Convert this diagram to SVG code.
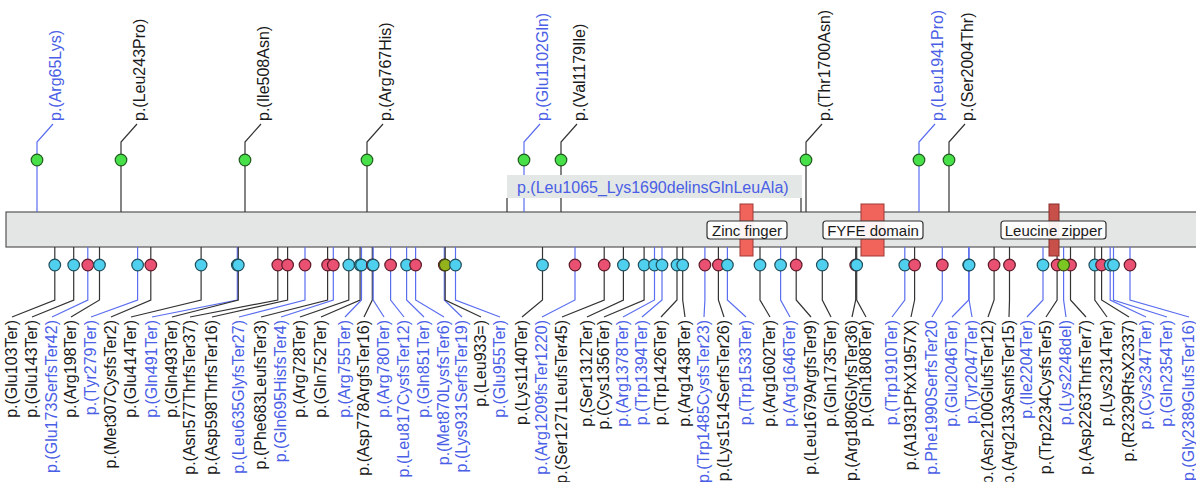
<svg xmlns="http://www.w3.org/2000/svg" width="1196" height="482" viewBox="0 0 1196 482">
<style>
.ck{stroke:#333;stroke-width:1.2;fill:none}
.cb{stroke:#5a6ef0;stroke-width:1.2;fill:none}
text{font-family:"Liberation Sans",Arial,sans-serif;font-size:16px}
.nk{fill:#1a1a1a}
.nb{fill:#4a5ee6}
.be text{text-anchor:end}
.gr{fill:#48e048;stroke:#1f5a1f;stroke-width:1.2}
.cy{fill:#4fd0ee;stroke:#1f4f5c;stroke-width:1.2}
.rd{fill:#ea5072;stroke:#5c1a28;stroke-width:1.2}
.ol{fill:#94b21c;stroke:#3a4a10;stroke-width:1.2}
.ol2{fill:#7cc623;stroke:#3a4a10;stroke-width:1.2}
.lab rect.dom{fill:#f0645c;fill-opacity:1;stroke:#a03a36;stroke-width:1}
.lab rect.dom2{fill:#c8504a;fill-opacity:1;stroke:#8a2e2a;stroke-width:1}
.lab rect.box{fill:#fff;fill-opacity:0.92;stroke:#333;stroke-width:1.2}
.lab text{font-size:15px;fill:#1a1a1a;text-anchor:middle}
</style>
<g id="protein">
<rect x="6" y="212" width="1200" height="35" fill="#e3e6e4" stroke="#555" stroke-width="1.2"/>
</g>
<g id="connectors">
<path class="cb" d="M37 212V142L53 124"/>
<path class="ck" d="M121 212V142L137 124"/>
<path class="ck" d="M245 212V142L261 124"/>
<path class="ck" d="M367 212V142L383 124"/>
<path class="cb" d="M524 212V142L540 124"/>
<path class="ck" d="M561 212V142L577 124"/>
<path class="ck" d="M806 212V142L822 124"/>
<path class="cb" d="M919 212V142L935 124"/>
<path class="ck" d="M949 212V142L965 124"/>
<path class="ck" d="M507 198V212M801 198V212"/>
<path class="ck" d="M54.8 247V300L12 317"/>
<path class="ck" d="M73.7 247V300L32 317"/>
<path class="cb" d="M87.8 247V300L52 317"/>
<path class="ck" d="M99.5 247V300L71 317"/>
<path class="cb" d="M137.6 247V300L91 317"/>
<path class="ck" d="M150.8 247V300L111 317"/>
<path class="ck" d="M201.1 247V300L131 317"/>
<path class="cb" d="M237.3 247V300L152 317"/>
<path class="ck" d="M238.3 247V300L172 317"/>
<path class="ck" d="M277.8 247V300L190 317"/>
<path class="ck" d="M287.6 247V300L212 317"/>
<path class="cb" d="M305 247V300L239 317"/>
<path class="ck" d="M327.6 247V300L261 317"/>
<path class="cb" d="M333.3 247V300L281 317"/>
<path class="ck" d="M348.8 247V300L300 317"/>
<path class="ck" d="M360.1 247V300L321 317"/>
<path class="cb" d="M361.5 247V300L345 317"/>
<path class="ck" d="M372.3 247V300L364 317"/>
<path class="cb" d="M373.2 247V300L384 317"/>
<path class="cb" d="M390.6 247V300L404 317"/>
<path class="cb" d="M406.6 247V300L424 317"/>
<path class="cb" d="M415.6 247V300L444 317"/>
<path class="cb" d="M444.3 247V300L462 317"/>
<path class="ck" d="M445.2 247V300L481 317"/>
<path class="cb" d="M455.5 247V300L500 317"/>
<path class="ck" d="M542.5 247V300L522 317"/>
<path class="cb" d="M575 247V300L542 317"/>
<path class="ck" d="M604.2 247V300L562 317"/>
<path class="ck" d="M623.4 247V300L587 317"/>
<path class="ck" d="M644.1 247V300L604 317"/>
<path class="cb" d="M654.5 247V300L623 317"/>
<path class="cb" d="M662 247V300L642 317"/>
<path class="ck" d="M677 247V300L661 317"/>
<path class="ck" d="M682.7 247V300L685 317"/>
<path class="cb" d="M704.9 247V300L704 317"/>
<path class="ck" d="M718.4 247V300L724 317"/>
<path class="cb" d="M727.4 247V300L746 317"/>
<path class="ck" d="M760 247V300L770 317"/>
<path class="cb" d="M780.6 247V300L790 317"/>
<path class="ck" d="M796.2 247V300L811 317"/>
<path class="ck" d="M822.3 247V300L831 317"/>
<path class="ck" d="M855.7 247V300L852 317"/>
<path class="ck" d="M856.7 247V300L866 317"/>
<path class="cb" d="M904.8 247V300L892 317"/>
<path class="ck" d="M914.6 247V300L911 317"/>
<path class="cb" d="M942.3 247V300L932 317"/>
<path class="cb" d="M968.7 247V300L952 317"/>
<path class="cb" d="M969.1 247V300L972 317"/>
<path class="ck" d="M994.1 247V300L988 317"/>
<path class="ck" d="M1009.5 247V300L1009 317"/>
<path class="cb" d="M1043 247V300L1027 317"/>
<path class="ck" d="M1057.1 247V300L1046 317"/>
<path class="cb" d="M1063.6 247V300L1066 317"/>
<path class="ck" d="M1070.5 247V300L1086 317"/>
<path class="ck" d="M1094.8 247V300L1107 317"/>
<path class="ck" d="M1101.6 247V300L1129 317"/>
<path class="cb" d="M1110.2 247V300L1146 317"/>
<path class="cb" d="M1113.5 247V300L1167 317"/>
<path class="cb" d="M1130 247V300L1189 317"/>
</g>
<g id="delins">
<rect x="507" y="175" width="295" height="23" fill="#e3e7e5"/>
<text class="nb" x="517" y="193">p.(Leu1065_Lys1690delinsGlnLeuAla)</text>
</g>
<g id="zinc-finger" class="lab">
<rect class="dom" x="740" y="204" width="13" height="52"/>
<rect class="box" x="707" y="221" width="80" height="18" rx="3"/>
<text x="747" y="235.5">Zinc finger</text>
</g>
<g id="fyfe-domain" class="lab">
<rect class="dom" x="861" y="204" width="23" height="52"/>
<rect class="box" x="823" y="221" width="100" height="18" rx="3"/>
<text x="873" y="235.5">FYFE domain</text>
</g>
<g id="leucine-zipper" class="lab">
<rect class="dom2" x="1049" y="204" width="10" height="52"/>
<rect class="box" x="1001" y="221" width="105" height="18" rx="3"/>
<text x="1053.5" y="235.5">Leucine zipper</text>
</g>
<g id="top-mutations">
<g id="m-arg65lys"><circle class="gr" cx="37" cy="160" r="5.8"/><text class="nb" transform="translate(61 121) rotate(-90)">p.(Arg65Lys)</text></g>
<g id="m-leu243pro"><circle class="gr" cx="121" cy="160" r="5.8"/><text class="nk" transform="translate(145 121) rotate(-90)">p.(Leu243Pro)</text></g>
<g id="m-ile508asn"><circle class="gr" cx="245" cy="160" r="5.8"/><text class="nk" transform="translate(269 121) rotate(-90)">p.(Ile508Asn)</text></g>
<g id="m-arg767his"><circle class="gr" cx="367" cy="160" r="5.8"/><text class="nk" transform="translate(391 121) rotate(-90)">p.(Arg767His)</text></g>
<g id="m-glu1102gln"><circle class="gr" cx="524" cy="160" r="5.8"/><text class="nb" transform="translate(548 121) rotate(-90)">p.(Glu1102Gln)</text></g>
<g id="m-val1179ile"><circle class="gr" cx="561" cy="160" r="5.8"/><text class="nk" transform="translate(585 121) rotate(-90)">p.(Val1179Ile)</text></g>
<g id="m-thr1700asn"><circle class="gr" cx="806" cy="160" r="5.8"/><text class="nk" transform="translate(830 121) rotate(-90)">p.(Thr1700Asn)</text></g>
<g id="m-leu1941pro"><circle class="gr" cx="919" cy="160" r="5.8"/><text class="nb" transform="translate(943 121) rotate(-90)">p.(Leu1941Pro)</text></g>
<g id="m-ser2004thr"><circle class="gr" cx="949" cy="160" r="5.8"/><text class="nk" transform="translate(973 121) rotate(-90)">p.(Ser2004Thr)</text></g>
</g>
<g id="bottom-mutations" class="be">
<g id="b01"><circle class="cy" cx="54.8" cy="265" r="5.8"/><text class="nk" transform="translate(16.5 320) rotate(-90)">p.(Glu103Ter)</text></g>
<g id="b02"><circle class="cy" cx="73.7" cy="265" r="5.8"/><text class="nk" transform="translate(36.5 320) rotate(-90)">p.(Glu143Ter)</text></g>
<g id="b03"><circle class="rd" cx="87.8" cy="265" r="5.8"/><text class="nb" transform="translate(56.5 320) rotate(-90)">p.(Glu173SerfsTer42)</text></g>
<g id="b04"><circle class="cy" cx="99.5" cy="265" r="5.8"/><text class="nk" transform="translate(75.5 320) rotate(-90)">p.(Arg198Ter)</text></g>
<g id="b05"><circle class="cy" cx="137.6" cy="265" r="5.8"/><text class="nb" transform="translate(95.5 320) rotate(-90)">p.(Tyr279Ter)</text></g>
<g id="b06"><circle class="rd" cx="150.8" cy="265" r="5.8"/><text class="nk" transform="translate(115.5 320) rotate(-90)">p.(Met307CysfsTer2)</text></g>
<g id="b07"><circle class="cy" cx="201.1" cy="265" r="5.8"/><text class="nk" transform="translate(135.5 320) rotate(-90)">p.(Glu414Ter)</text></g>
<g id="b08"><circle class="cy" cx="237.3" cy="265" r="5.8"/><text class="nb" transform="translate(156.5 320) rotate(-90)">p.(Gln491Ter)</text></g>
<g id="b09"><circle class="cy" cx="238.3" cy="265" r="5.8"/><text class="nk" transform="translate(176.5 320) rotate(-90)">p.(Gln493Ter)</text></g>
<g id="b10"><circle class="rd" cx="277.8" cy="265" r="5.8"/><text class="nk" transform="translate(194.5 320) rotate(-90)">p.(Asn577ThrfsTer37)</text></g>
<g id="b11"><circle class="rd" cx="287.6" cy="265" r="5.8"/><text class="nk" transform="translate(216.5 320) rotate(-90)">p.(Asp598ThrfsTer16)</text></g>
<g id="b12"><circle class="rd" cx="305" cy="265" r="5.8"/><text class="nb" transform="translate(243.5 320) rotate(-90)">p.(Leu635GlyfsTer27)</text></g>
<g id="b13"><circle class="rd" cx="327.6" cy="265" r="5.8"/><text class="nk" transform="translate(265.5 320) rotate(-90)">p.(Phe683LeufsTer3)</text></g>
<g id="b14"><circle class="rd" cx="333.3" cy="265" r="5.8"/><text class="nb" transform="translate(285.5 320) rotate(-90)">p.(Gln695HisfsTer4)</text></g>
<g id="b15"><circle class="cy" cx="348.8" cy="265" r="5.8"/><text class="nk" transform="translate(304.5 320) rotate(-90)">p.(Arg728Ter)</text></g>
<g id="b16"><circle class="cy" cx="360.1" cy="265" r="5.8"/><text class="nk" transform="translate(325.5 320) rotate(-90)">p.(Gln752Ter)</text></g>
<g id="b17"><circle class="cy" cx="361.5" cy="265" r="5.8"/><text class="nb" transform="translate(349.5 320) rotate(-90)">p.(Arg755Ter)</text></g>
<g id="b18"><circle class="rd" cx="372.3" cy="265" r="5.8"/><text class="nk" transform="translate(368.5 320) rotate(-90)">p.(Asp778ArgfsTer16)</text></g>
<g id="b19"><circle class="cy" cx="373.2" cy="265" r="5.8"/><text class="nb" transform="translate(388.5 320) rotate(-90)">p.(Arg780Ter)</text></g>
<g id="b20"><circle class="rd" cx="390.6" cy="265" r="5.8"/><text class="nb" transform="translate(408.5 320) rotate(-90)">p.(Leu817CysfsTer12)</text></g>
<g id="b21"><circle class="cy" cx="406.6" cy="265" r="5.8"/><text class="nb" transform="translate(428.5 320) rotate(-90)">p.(Gln851Ter)</text></g>
<g id="b22"><circle class="rd" cx="415.6" cy="265" r="5.8"/><text class="nb" transform="translate(448.5 320) rotate(-90)">p.(Met870LysfsTer6)</text></g>
<g id="b23"><circle class="rd" cx="444.3" cy="265" r="5.8"/><text class="nb" transform="translate(466.5 320) rotate(-90)">p.(Lys931SerfsTer19)</text></g>
<g id="b24"><circle class="ol" cx="445.2" cy="265" r="5.8"/><text class="nk" transform="translate(485.5 320) rotate(-90)">p.(Leu933=)</text></g>
<g id="b25"><circle class="cy" cx="455.5" cy="265" r="5.8"/><text class="nb" transform="translate(504.5 320) rotate(-90)">p.(Glu955Ter)</text></g>
<g id="b26"><circle class="cy" cx="542.5" cy="265" r="5.8"/><text class="nk" transform="translate(526.5 320) rotate(-90)">p.(Lys1140Ter)</text></g>
<g id="b27"><circle class="rd" cx="575" cy="265" r="5.8"/><text class="nb" transform="translate(546.5 320) rotate(-90)">p.(Arg1209fsTer1220)</text></g>
<g id="b28"><circle class="rd" cx="604.2" cy="265" r="5.8"/><text class="nk" transform="translate(566.5 320) rotate(-90)">p.(Ser1271LeufsTer45)</text></g>
<g id="b29"><circle class="cy" cx="623.4" cy="265" r="5.8"/><text class="nk" transform="translate(591.5 320) rotate(-90)">p.(Ser1312Ter)</text></g>
<g id="b30"><circle class="cy" cx="644.1" cy="265" r="5.8"/><text class="nk" transform="translate(608.5 320) rotate(-90)">p.(Cys1356Ter)</text></g>
<g id="b31"><circle class="cy" cx="654.5" cy="265" r="5.8"/><text class="nb" transform="translate(627.5 320) rotate(-90)">p.(Arg1378Ter)</text></g>
<g id="b32"><circle class="cy" cx="662" cy="265" r="5.8"/><text class="nb" transform="translate(646.5 320) rotate(-90)">p.(Trp1394Ter)</text></g>
<g id="b33"><circle class="cy" cx="677" cy="265" r="5.8"/><text class="nk" transform="translate(665.5 320) rotate(-90)">p.(Trp1426Ter)</text></g>
<g id="b34"><circle class="cy" cx="682.7" cy="265" r="5.8"/><text class="nk" transform="translate(689.5 320) rotate(-90)">p.(Arg1438Ter)</text></g>
<g id="b35"><circle class="rd" cx="704.9" cy="265" r="5.8"/><text class="nb" transform="translate(708.5 320) rotate(-90)">p.(Trp1485CysfsTer23)</text></g>
<g id="b36"><circle class="rd" cx="718.4" cy="265" r="5.8"/><text class="nk" transform="translate(728.5 320) rotate(-90)">p.(Lys1514SerfsTer26)</text></g>
<g id="b37"><circle class="cy" cx="727.4" cy="265" r="5.8"/><text class="nb" transform="translate(750.5 320) rotate(-90)">p.(Trp1533Ter)</text></g>
<g id="b38"><circle class="cy" cx="760" cy="265" r="5.8"/><text class="nk" transform="translate(774.5 320) rotate(-90)">p.(Arg1602Ter)</text></g>
<g id="b39"><circle class="cy" cx="780.6" cy="265" r="5.8"/><text class="nb" transform="translate(794.5 320) rotate(-90)">p.(Arg1646Ter)</text></g>
<g id="b40"><circle class="rd" cx="796.2" cy="265" r="5.8"/><text class="nk" transform="translate(815.5 320) rotate(-90)">p.(Leu1679ArgfsTer9)</text></g>
<g id="b41"><circle class="cy" cx="822.3" cy="265" r="5.8"/><text class="nk" transform="translate(835.5 320) rotate(-90)">p.(Gln1735Ter)</text></g>
<g id="b42"><circle class="rd" cx="855.7" cy="265" r="5.8"/><text class="nk" transform="translate(856.5 320) rotate(-90)">p.(Arg1806GlyfsTer36)</text></g>
<g id="b43"><circle class="cy" cx="856.7" cy="265" r="5.8"/><text class="nk" transform="translate(870.5 320) rotate(-90)">p.(Gln1808Ter)</text></g>
<g id="b44"><circle class="cy" cx="904.8" cy="265" r="5.8"/><text class="nb" transform="translate(896.5 320) rotate(-90)">p.(Trp1910Ter)</text></g>
<g id="b45"><circle class="rd" cx="914.6" cy="265" r="5.8"/><text class="nk" transform="translate(915.5 320) rotate(-90)">p.(A1931PfxX1957X)</text></g>
<g id="b46"><circle class="rd" cx="942.3" cy="265" r="5.8"/><text class="nb" transform="translate(936.5 320) rotate(-90)">p.Phe1990SerfsTer20</text></g>
<g id="b47"><circle class="cy" cx="968.7" cy="265" r="5.8"/><text class="nb" transform="translate(956.5 320) rotate(-90)">p.(Glu2046Ter)</text></g>
<g id="b48"><circle class="cy" cx="969.1" cy="265" r="5.8"/><text class="nb" transform="translate(976.5 320) rotate(-90)">p.(Tyr2047Ter)</text></g>
<g id="b49"><circle class="rd" cx="994.1" cy="265" r="5.8"/><text class="nk" transform="translate(992.5 320) rotate(-90)">p.(Asn2100GlufsTer12)</text></g>
<g id="b50"><circle class="rd" cx="1009.5" cy="265" r="5.8"/><text class="nk" transform="translate(1013.5 320) rotate(-90)">p.(Arg2133AsnfsTer15)</text></g>
<g id="b51"><circle class="cy" cx="1043" cy="265" r="5.8"/><text class="nb" transform="translate(1031.5 320) rotate(-90)">p.(Ile2204Ter)</text></g>
<g id="b52"><circle class="rd" cx="1057.1" cy="265" r="5.8"/><text class="nk" transform="translate(1050.5 320) rotate(-90)">p.(Trp2234CysfsTer5)</text></g>
<g id="b54"><circle class="rd" cx="1070.5" cy="265" r="5.8"/><text class="nk" transform="translate(1090.5 320) rotate(-90)">p.(Asp2263ThrfsTer7)</text></g>
<g id="b53"><circle class="ol2" cx="1063.6" cy="265" r="5.8"/><text class="nb" transform="translate(1070.5 320) rotate(-90)">p.(Lys2248del)</text></g>
<g id="b55"><circle class="cy" cx="1094.8" cy="265" r="5.8"/><text class="nk" transform="translate(1111.5 320) rotate(-90)">p.(Lys2314Ter)</text></g>
<g id="b56"><circle class="rd" cx="1101.6" cy="265" r="5.8"/><text class="nk" transform="translate(1133.5 320) rotate(-90)">p.(R2329RfsX2337)</text></g>
<g id="b57"><circle class="cy" cx="1110.2" cy="265" r="5.8"/><text class="nb" transform="translate(1150.5 320) rotate(-90)">p.(Cys2347Ter)</text></g>
<g id="b58"><circle class="cy" cx="1113.5" cy="265" r="5.8"/><text class="nb" transform="translate(1171.5 320) rotate(-90)">p.(Gln2354Ter)</text></g>
<g id="b59"><circle class="rd" cx="1130" cy="265" r="5.8"/><text class="nb" transform="translate(1193.5 320) rotate(-90)">p.(Gly2389GlufsTer16)</text></g>
</g>
</svg>
